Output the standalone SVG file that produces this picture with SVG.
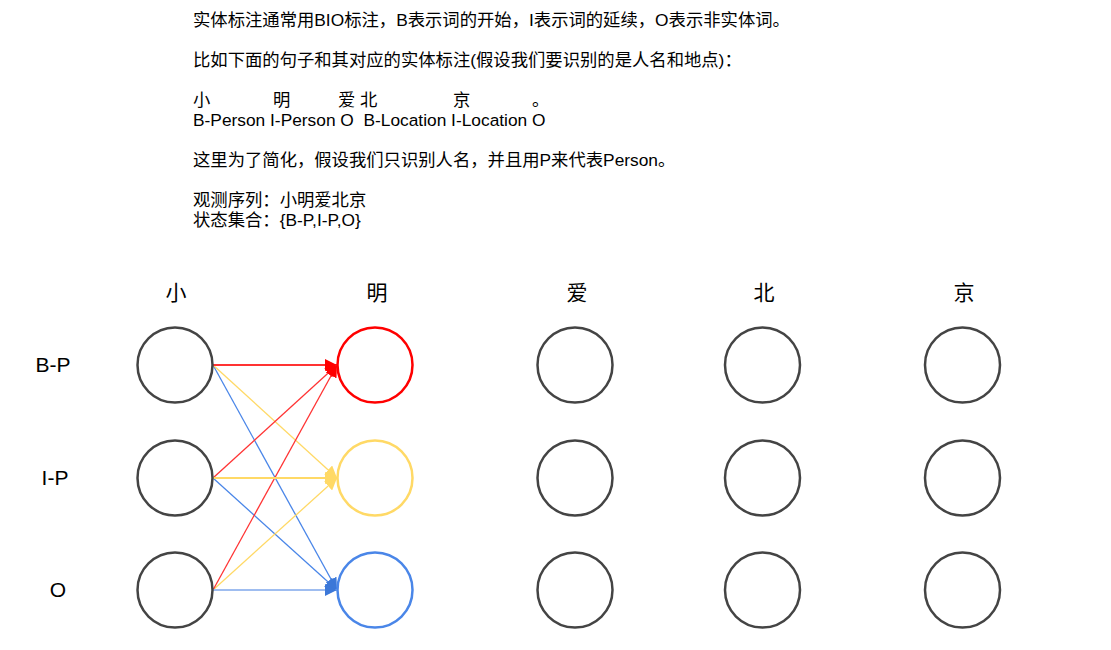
<svg xmlns="http://www.w3.org/2000/svg" width="1111" height="650" viewBox="0 0 1111 650">
  <style>
    .t { font-family: "Liberation Sans", "Noto Sans CJK SC", sans-serif; font-size: 17.33px; fill: #000; }
    .h { font-family: "Noto Sans CJK SC", "Liberation Sans", sans-serif; font-size: 21px; fill: #000; text-anchor: middle; }
    .lbl { font-family: "Liberation Sans", "Noto Sans CJK SC", sans-serif; font-size: 21px; fill: #000; text-anchor: middle; }
    .c { fill: #fff; stroke: #444; stroke-width: 2.5; }
    .cr { stroke: #ff0000; }
    .cy { stroke: #ffd966; }
    .cb { stroke: #4a86e8; }
    .e { fill: none; stroke-width: 1.3; }
    .eh { stroke-width: 2; }
    .r { stroke: #ff3333; }
    .y { stroke: #ffd966; }
    .b { stroke: #4a86e8; }
    .bl { stroke: #9fbdf0; }
  </style>
  <defs>
    <marker id="ar" markerUnits="userSpaceOnUse" markerWidth="13" markerHeight="12" refX="12" refY="6" orient="auto">
      <path d="M0,0 L12,6 L0,12 Z" fill="#ff0000"/>
    </marker>
    <marker id="ay" markerUnits="userSpaceOnUse" markerWidth="13" markerHeight="12" refX="12" refY="6" orient="auto">
      <path d="M0,0 L12,6 L0,12 Z" fill="#ffd966"/>
    </marker>
    <marker id="ab" markerUnits="userSpaceOnUse" markerWidth="13" markerHeight="12" refX="12" refY="6" orient="auto">
      <path d="M0,0 L12,6 L0,12 Z" fill="#3c78d8"/>
    </marker>
  </defs>

  <g id="intro-text">
    <text class="t" x="193" y="26">实体标注通常用BIO标注，B表示词的开始，I表示词的延续，O表示非实体词。</text>
    <text class="t" x="193" y="66">比如下面的句子和其对应的实体标注(假设我们要识别的是人名和地点)：</text>
    <text class="t" y="106"><tspan x="193">小</tspan><tspan x="273">明</tspan><tspan x="338">爱</tspan><tspan x="360">北</tspan><tspan x="453">京</tspan><tspan x="532">。</tspan></text>
    <text class="t" x="193" y="126" xml:space="preserve">B-Person I-Person O  B-Location I-Location O</text>
    <text class="t" x="193" y="166">这里为了简化，假设我们只识别人名，并且用P来代表Person。</text>
    <text class="t" x="193" y="206">观测序列：小明爱北京</text>
    <text class="t" x="193" y="226">状态集合：{B-P,I-P,O}</text>
  </g>

  <g id="column-headers">
    <text class="h" x="176" y="300">小</text>
    <text class="h" x="377" y="300">明</text>
    <text class="h" x="577" y="300">爱</text>
    <text class="h" x="764" y="300">北</text>
    <text class="h" x="964" y="300">京</text>
  </g>

  <g id="row-labels">
    <text class="lbl" x="53" y="372">B-P</text>
    <text class="lbl" x="55" y="485">I-P</text>
    <text class="lbl" x="58" y="597">O</text>
  </g>

  <g id="connectors">
    <line class="e b" x1="213" y1="365" x2="337" y2="590" marker-end="url(#ab)"/>
    <line class="e b" x1="213" y1="478" x2="337" y2="590" marker-end="url(#ab)"/>
    <line class="e y" x1="213" y1="365" x2="337" y2="478" marker-end="url(#ay)"/>
    <line class="e y" x1="213" y1="590" x2="337" y2="478" marker-end="url(#ay)"/>
    <line class="e r" x1="213" y1="478" x2="337" y2="365" marker-end="url(#ar)"/>
    <line class="e r" x1="213" y1="590" x2="337" y2="365" marker-end="url(#ar)"/>
    <line class="e eh r" x1="213" y1="365" x2="337" y2="365" marker-end="url(#ar)"/>
    <line class="e eh y" x1="213" y1="478" x2="337" y2="478" marker-end="url(#ay)"/>
    <line class="e eh bl" x1="213" y1="590" x2="337" y2="590" marker-end="url(#ab)"/>
  </g>

  <g id="node-xiao-BP"><circle class="c" cx="175" cy="365" r="37.5"/></g>
  <g id="node-xiao-IP"><circle class="c" cx="175" cy="478" r="37.5"/></g>
  <g id="node-xiao-O"><circle class="c" cx="175" cy="590" r="37.5"/></g>

  <g id="node-ming-BP"><circle class="c cr" cx="375" cy="365" r="37.5"/></g>
  <g id="node-ming-IP"><circle class="c cy" cx="375" cy="478" r="37.5"/></g>
  <g id="node-ming-O"><circle class="c cb" cx="375" cy="590" r="37.5"/></g>

  <g id="node-ai-BP"><circle class="c" cx="575" cy="365" r="37.5"/></g>
  <g id="node-ai-IP"><circle class="c" cx="575" cy="478" r="37.5"/></g>
  <g id="node-ai-O"><circle class="c" cx="575" cy="590" r="37.5"/></g>

  <g id="node-bei-BP"><circle class="c" cx="762.5" cy="365" r="37.5"/></g>
  <g id="node-bei-IP"><circle class="c" cx="762.5" cy="478" r="37.5"/></g>
  <g id="node-bei-O"><circle class="c" cx="762.5" cy="590" r="37.5"/></g>

  <g id="node-jing-BP"><circle class="c" cx="962.5" cy="365" r="37.5"/></g>
  <g id="node-jing-IP"><circle class="c" cx="962.5" cy="478" r="37.5"/></g>
  <g id="node-jing-O"><circle class="c" cx="962.5" cy="590" r="37.5"/></g>
</svg>
